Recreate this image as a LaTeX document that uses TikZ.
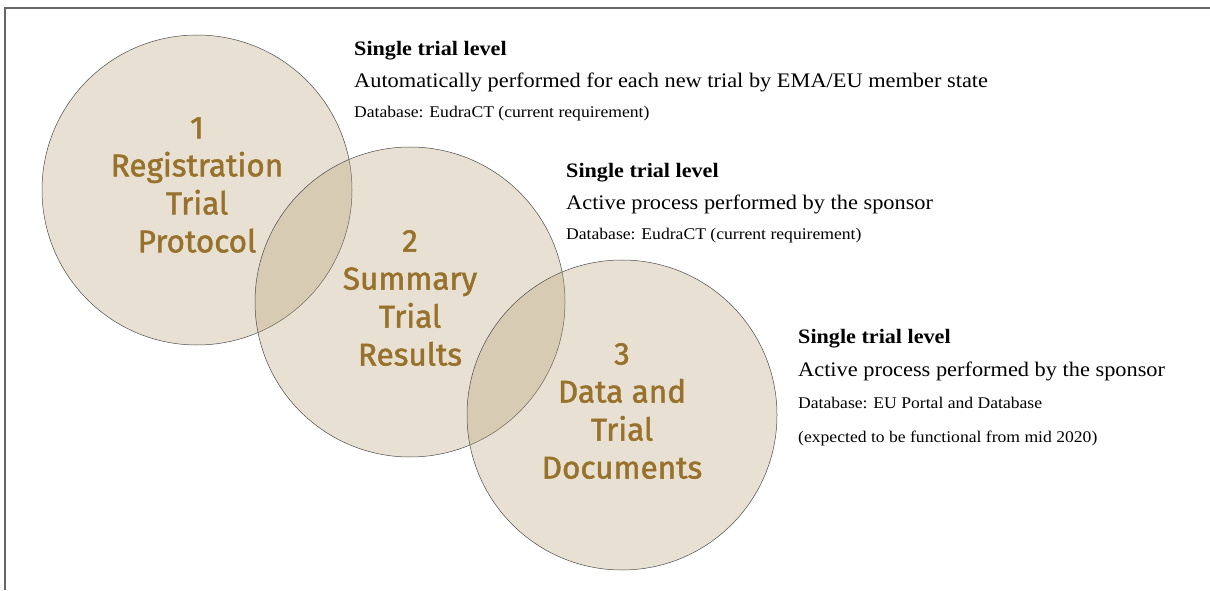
\documentclass[tikz,border=0pt]{standalone}
\usepackage{fontspec}
\setmainfont[FakeStretch=1.08]{Liberation Serif}
\newfontfamily\circfont[FakeBold=1.6]{Fira Sans}
\usepackage{tikz}

\definecolor{sand}{RGB}{178,155,108}
\definecolor{gold}{RGB}{152,114,44}

\tikzset{
  stage/.style={circle,minimum size=310pt,inner sep=0pt,draw=black!70,line width=0.5pt,fill=sand,fill opacity=0.3},
  stagetext/.style={align=center,text=gold,font=\circfont\fontsize{31.5}{38}\selectfont},
  leveltitle/.style={anchor=base west,inner sep=0pt,font=\bfseries\fontsize{20.5}{22}\selectfont},
  levelmain/.style={anchor=base west,inner sep=0pt,font=\fontsize{20.7}{22}\selectfont},
  leveldb/.style={anchor=base west,inner sep=0pt,font=\fontsize{16.3}{18}\selectfont}
}

\begin{document}
\begin{tikzpicture}[x=1pt,y=1pt]
  \useasboundingbox (0,0) rectangle (1210,590);
  \draw[color=black!60,line width=1.2pt] (5,0) -- (5,582) -- (1210,582);

  \node[stage] (c1) at (197,400) {};
  \node[stage] (c2) at (410,288) {};
  \node[stage] (c3) at (622,175) {};

  \node[stagetext] (t1) at ([yshift=5pt]c1.center) {1\\Registration\\Trial\\Protocol};
  \node[stagetext] (t2) at ([yshift=4pt]c2.center) {2\\Summary\\Trial\\Results};
  \node[stagetext] (t3) at ([yshift=4pt]c3.center) {3\\Data and\\Trial\\Documents};

  \node[leveltitle] (l1title) at (354,534) {Single trial level};
  \node[levelmain] (l1main) at (354,502) {Automatically performed for each new trial by EMA/EU member state};
  \node[leveldb] (l1db) at (354,472) {Database: EudraCT (current requirement)};

  \node[leveltitle] (l2title) at (566,412) {Single trial level};
  \node[levelmain] (l2main) at (566,380) {Active process performed by the sponsor};
  \node[leveldb] (l2db) at (566,350) {Database: EudraCT (current requirement)};

  \node[leveltitle] (l3title) at (798,247) {Single trial level};
  \node[levelmain] (l3main) at (798,214) {Active process performed by the sponsor};
  \node[leveldb] (l3db) at (798,182) {Database: EU Portal and Database};
  \node[leveldb] (l3note) at (798,148) {(expected to be functional from mid 2020)};
\end{tikzpicture}
\end{document}
